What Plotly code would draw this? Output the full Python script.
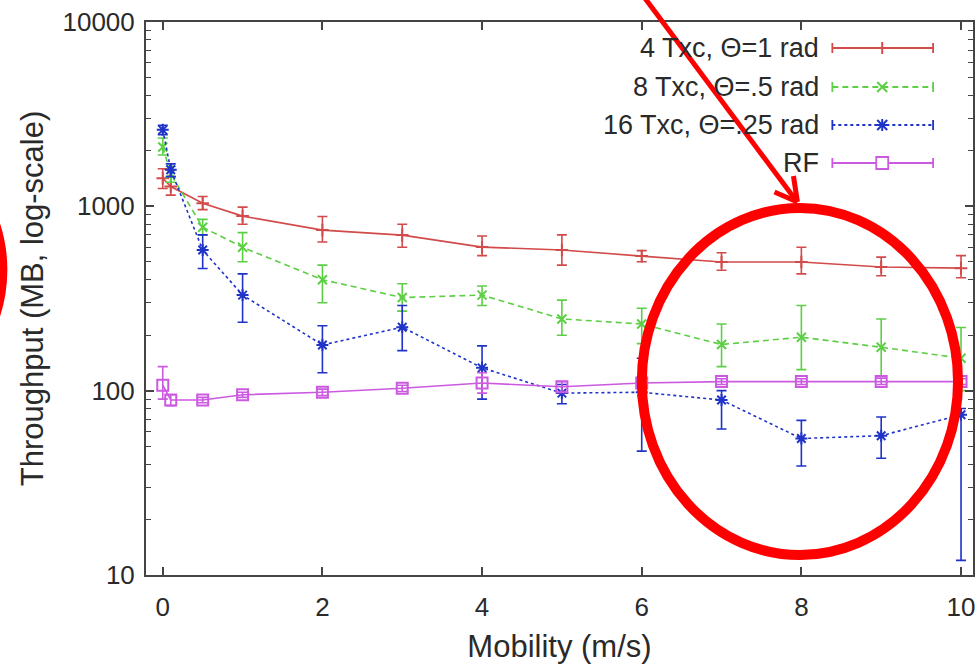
import plotly.graph_objects as go

# ---------------- data ----------------
mobility = [0, 0.1, 0.5, 1, 2, 3, 4, 5, 6, 7, 8, 9, 10]

txc4 = [1420, 1280, 1040, 885, 743, 698, 601, 580, 537, 499, 499, 469, 462]
txc4_hi = [1600, 1450, 1130, 990, 880, 800, 690, 700, 575, 560, 600, 530, 540]
txc4_lo = [1250, 1150, 960, 800, 640, 600, 540, 480, 500, 450, 430, 420, 410]

txc8 = [2100, 1500, 770, 600, 400, 320, 330, 245, 230, 178, 195, 172, 150]
txc8_hi = [2350, 1650, 850, 720, 480, 380, 370, 310, 280, 230, 290, 245, 220]
txc8_lo = [1900, 1350, 700, 500, 300, 270, 290, 200, 180, 135, 130, 120, 100]

txc16 = [2600, 1580, 580, 330, 177, 221, 133, 97, 98, 89, 55, 57, 74]
txc16_hi = [2750, 1700, 700, 430, 225, 290, 175, 108, 150, 100, 69, 72, 80]
txc16_lo = [2450, 1450, 460, 235, 125, 165, 90, 85, 47, 62, 39, 43, 12]

rf = [107, 89, 89, 95, 98, 103, 110, 105, 110, 112, 112, 112, 112]
rf_hi = [135, 95, 92, 98, 102, 107, 125, 112, 118, 116, 116, 117, 116]
rf_lo = [90, 83, 86, 92, 94, 99, 97, 98, 102, 108, 108, 108, 108]

labels = ["4 Txc, \u0398=1 rad", "8 Txc, \u0398=.5 rad", "16 Txc, \u0398=.25 rad", "RF"]
x_ticks = [0, 2, 4, 6, 8, 10]
y_ticks = [10, 100, 1000, 10000]
y_ticktext = ["10", "100", "1000", "10000"]

# ---------------- styling ----------------
W, H = 979, 670
L, R, T, B = 146, 4, 22, 95
PW, PH = W - L - R, H - T - B
FONT = "Liberation Sans, Arial, sans-serif"
TXT = "#2a2a2a"

colors = ["#d24a4a", "#5ccf45", "#1f33c9", "#cc5ae0"]
dashes = ["solid", "6px,4px", "3px,3px", "solid"]
symbols = ["cross-thin", "x-thin", "asterisk", "square-open"]
msizes = [9, 9, 10, 11]

series = [
    (txc4, txc4_hi, txc4_lo),
    (txc8, txc8_hi, txc8_lo),
    (txc16, txc16_hi, txc16_lo),
    (rf, rf_hi, rf_lo),
]


def px(x):
    return (x - L) / PW


def py(y):
    return (H - B - y) / PH


fig = go.Figure()
for i, (vals, hi, lo) in enumerate(series):
    fig.add_trace(go.Scatter(
        x=mobility, y=vals, mode="lines+markers", name=labels[i],
        line=dict(color=colors[i], width=1.6, dash=dashes[i]),
        marker=dict(symbol=symbols[i], size=msizes[i], color=colors[i],
                    line=dict(color=colors[i], width=2)),
        error_y=dict(type="data", symmetric=False,
                     array=[h - v for h, v in zip(hi, vals)],
                     arrayminus=[v - l for l, v in zip(lo, vals)],
                     color=colors[i], thickness=1.6, width=5),
        showlegend=False,
    ))

# ---------------- manual legend (text left, key right) ----------------
shapes = []
annotations = []
leg_y = [48, 87, 125, 163]
kx0, kx1, kxm, tx = 834, 935, 884, 823
for i, yy in enumerate(leg_y):
    c = colors[i]
    annotations.append(dict(
        x=px(tx), y=py(yy), xref="paper", yref="paper", text=labels[i],
        showarrow=False, xanchor="right", yanchor="middle",
        font=dict(family=FONT, size=27, color=TXT)))
    shapes.append(dict(type="line", xref="paper", yref="paper",
                       x0=px(kx0), x1=px(kx1), y0=py(yy), y1=py(yy),
                       line=dict(color=c, width=1.8, dash=dashes[i])))
    for ex in (kx0, kx1):
        shapes.append(dict(type="line", xref="paper", yref="paper",
                           x0=px(ex), x1=px(ex), y0=py(yy - 5), y1=py(yy + 5),
                           line=dict(color=c, width=1.8)))
    if i == 0:
        segs = [((kxm, yy - 6), (kxm, yy + 6))]
    elif i == 1:
        segs = [((kxm - 5, yy - 5), (kxm + 5, yy + 5)), ((kxm - 5, yy + 5), (kxm + 5, yy - 5))]
    elif i == 2:
        segs = [((kxm - 5, yy - 5), (kxm + 5, yy + 5)), ((kxm - 5, yy + 5), (kxm + 5, yy - 5)),
                ((kxm, yy - 6), (kxm, yy + 6)), ((kxm - 6, yy), (kxm + 6, yy))]
    else:
        segs = []
        shapes.append(dict(type="rect", xref="paper", yref="paper",
                           x0=px(kxm - 6), x1=px(kxm + 6), y0=py(yy - 6), y1=py(yy + 6),
                           line=dict(color=c, width=1.8), fillcolor="white"))
    for (a, b) in segs:
        shapes.append(dict(type="line", xref="paper", yref="paper",
                           x0=px(a[0]), y0=py(a[1]), x1=px(b[0]), y1=py(b[1]),
                           line=dict(color=c, width=2)))

# ---------------- red highlight overlays ----------------
RED = "#ff0000"
shapes.append(dict(type="circle", xref="paper", yref="paper",
                   x0=px(643), x1=px(960), y0=py(208), y1=py(555),
                   line=dict(color=RED, width=10), layer="above"))
shapes.append(dict(type="circle", xref="paper", yref="paper",
                   x0=px(-303), x1=px(3), y0=py(120), y1=py(420),
                   line=dict(color=RED, width=8), layer="above"))
shapes.append(dict(type="line", xref="paper", yref="paper",
                   x0=px(640), y0=py(-10), x1=px(798), y1=py(201),
                   line=dict(color=RED, width=5), layer="above"))
shapes.append(dict(type="line", xref="paper", yref="paper",
                   x0=px(776), y0=py(192), x1=px(799), y1=py(202),
                   line=dict(color=RED, width=5), layer="above"))
shapes.append(dict(type="line", xref="paper", yref="paper",
                   x0=px(795), y0=py(176), x1=px(799), y1=py(202),
                   line=dict(color=RED, width=5), layer="above"))

minor_vals = [m * 10 ** d for d in range(1, 4) for m in range(2, 10)]

fig.update_layout(
    width=W, height=H,
    margin=dict(l=L, r=R, t=T, b=B, pad=0),
    paper_bgcolor="white", plot_bgcolor="white",
    font=dict(family=FONT, color=TXT),
    shapes=shapes, annotations=annotations,
    xaxis=dict(
        range=[-0.21, 10.15], tickvals=x_ticks, ticks="inside", ticklen=8,
        tickwidth=1.5, tickcolor="#444", mirror="ticks", showline=True,
        linecolor="#444", linewidth=2, showgrid=False, zeroline=False,
        tickfont=dict(size=26, color=TXT, family=FONT), ticklabelstandoff=8,
        title=dict(text="Mobility (m/s)", font=dict(size=31, color=TXT, family=FONT), standoff=14),
    ),
    yaxis=dict(
        type="log", range=[1, 4], tickvals=y_ticks, ticktext=y_ticktext,
        ticks="inside", ticklen=8, tickwidth=1.5, tickcolor="#444", mirror="ticks",
        showline=True, linecolor="#444", linewidth=2, showgrid=False, zeroline=False,
        minor=dict(tickvals=minor_vals, ticks="inside", ticklen=5, tickcolor="#444",
                   tickwidth=1.2, showgrid=False),
        tickfont=dict(size=26, color=TXT, family=FONT), ticklabelstandoff=4,
        title=dict(text="Throughput (MB, log-scale)", font=dict(size=31, color=TXT, family=FONT), standoff=10),
    ),
)

fig.write_html("out.html")
